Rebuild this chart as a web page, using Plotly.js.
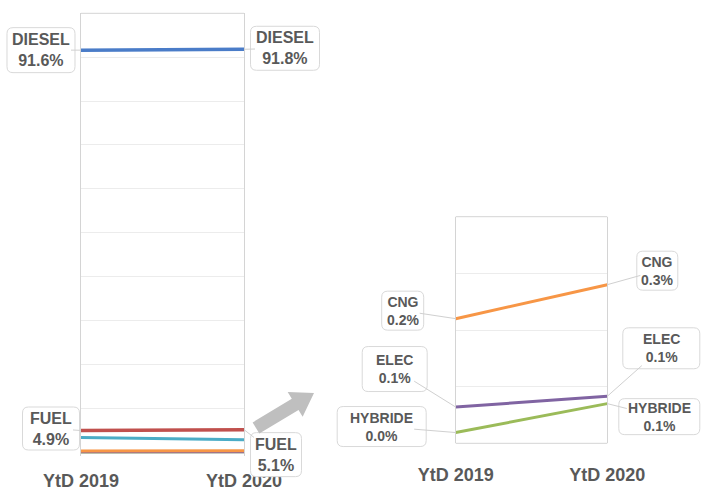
<!DOCTYPE html>
<html>
<head>
<meta charset="utf-8">
<script src="https://cdn.plot.ly/plotly-3.0.1.min.js"></script>
<style>html,body{margin:0;padding:0;background:#fff;}#chart{width:707px;height:491px;}</style>
</head>
<body>
<div id="chart"></div>
<script>
// ---- data ----
const periods = ["YtD 2019", "YtD 2020"];
const diesel  = [91.6, 91.8];
const fuel    = [4.9, 5.1];
const autres  = [3.3, 2.8];
const cng     = [0.22, 0.28];
const elec    = [0.064, 0.083];
const hybride = [0.019, 0.07];

const W = 707, H = 491;
const TXT = "#595959";
const FONT = "Liberation Sans, Arial, sans-serif";
const colors = {diesel:"#4a7cc8", fuel:"#c0504d", autres:"#4bacc6", cng:"#f79646", elec:"#8064a2", hybride:"#9bbb59"};

function px2x(p){return p/W;}
function px2y(p){return 1-p/H;}

const traces = [];
function line(y, c, xa, ya, w){
  traces.push({x:periods, y:y, type:"scatter", mode:"lines", xaxis:xa, yaxis:ya,
    line:{color:c, width:w}, hoverinfo:"skip", showlegend:false});
}
// left chart (all)
line(autres, colors.autres, "x", "y", 3);
line(hybride, colors.hybride, "x", "y", 3);
line(elec, colors.elec, "x", "y", 3);
line(cng, colors.cng, "x", "y", 3);
line(fuel, colors.fuel, "x", "y", 3.5);
line(diesel, colors.diesel, "x", "y", 3.5);
// right chart (zoom)
line(cng, colors.cng, "x2", "y2", 3);
line(hybride, colors.hybride, "x2", "y2", 3);
line(elec, colors.elec, "x2", "y2", 3);

const fmt = v => v.toFixed(1) + "%";

// annotations: [name, values, index, xaxis, yaxis, ax, ay, boxW, boxH, fontSize]
const annDefs = [
  ["DIESEL", diesel, 0, "x", "y", -40, 0, 68, 45, 16],
  ["DIESEL", diesel, 1, "x", "y", 41, -1, 69, 44, 16],
  ["FUEL", fuel, 0, "x", "y", -30, -2, 57, 43, 16],
  ["FUEL", fuel, 1, "x", "y", 32, 25, 51, 44, 16],
  ["CNG", cng, 0, "x2", "y2", -53, -8, 42, 39, 14],
  ["CNG", cng, 1, "x2", "y2", 50, -14, 41, 39, 14],
  ["ELEC", elec, 0, "x2", "y2", -61, -38, 65, 45, 14],
  ["ELEC", elec, 1, "x2", "y2", 54, -48, 77, 41, 14],
  ["HYBRIDE", hybride, 0, "x2", "y2", -74, -6, 89, 40, 14],
  ["HYBRIDE", hybride, 1, "x2", "y2", 52, 13, 81, 36, 14]
];

// axis geometry (pixels)
const L = {x0:81, x1:244, yTop:13.3, yZero:452, rng:[-1,100]};
const R = {x0:455.7, x1:607.3, yTop:216.7, yZero:443.3, rng:[0,0.4]};
function yPix(g, v){ const top = g === L ? 100 : 0.4; return g.yZero - (v/top)*(g.yZero-g.yTop); }
const Lbottom = yPix(L, -1);

const annotations = [];
const shapes = [];
const P = (x,y) => px2x(x).toFixed(5) + "," + px2y(y).toFixed(5);

// frame lines (top of left chart, top and bottom of right chart)
[[L.x0, L.yTop, L.x1, L.yTop], [R.x0, R.yTop, R.x1, R.yTop], [R.x0, R.yZero, R.x1, R.yZero]].forEach(s => {
  shapes.push({type:"line", xref:"paper", yref:"paper", x0:px2x(s[0]), y0:px2y(s[1]), x1:px2x(s[2]), y1:px2y(s[3]),
    line:{color:"#d4d4d4", width:1}, layer:"below"});
});

annDefs.forEach(d => {
  const [name, vals, i, xa, ya, ax, ay, bw, bh, fs] = d;
  const g = xa === "x" ? L : R;
  const ptx = i === 0 ? g.x0 : g.x1;
  const pty = yPix(g, vals[i]);
  const cx = ptx + ax, cy = pty + ay;
  annotations.push({
    x: periods[i], y: vals[i], xref: xa, yref: ya,
    ax: ax, ay: ay, showarrow: true, arrowhead: 0, arrowwidth: 1, arrowcolor: "#d0d0d0",
    text: "<b>" + name + "</b><br><b>" + fmt(vals[i]) + "</b>",
    font: {family: FONT, size: fs, color: TXT}, align: "center",
    bgcolor: "rgba(0,0,0,0)", borderwidth: 0
  });
  // rounded box
  const r = 6;
  const x0 = cx - bw/2, x1 = cx + bw/2, y0 = cy - bh/2, y1 = cy + bh/2;
  const path = "M" + P(x0+r,y0) + " L" + P(x1-r,y0) + " Q" + P(x1,y0) + " " + P(x1,y0+r) +
    " L" + P(x1,y1-r) + " Q" + P(x1,y1) + " " + P(x1-r,y1) + " L" + P(x0+r,y1) +
    " Q" + P(x0,y1) + " " + P(x0,y1-r) + " L" + P(x0,y0+r) + " Q" + P(x0,y0) + " " + P(x0+r,y0) + " Z";
  shapes.push({type:"path", xref:"paper", yref:"paper", path:path,
    line:{color:"#d9d9d9", width:1}, fillcolor:"#ffffff", layer:"above"});
});

// big grey arrow (decoration)
(function(){
  const tail = [256, 428], tip = [314, 393];
  const dx = tip[0]-tail[0], dy = tip[1]-tail[1], len = Math.hypot(dx, dy);
  const u = [dx/len, dy/len], n = [-u[1], u[0]];
  const sw = 6.5, hw = 14.5, hl = 22;
  const base = [tip[0]-u[0]*hl, tip[1]-u[1]*hl];
  const pts = [
    [tail[0]+n[0]*sw, tail[1]+n[1]*sw],
    [base[0]+n[0]*sw, base[1]+n[1]*sw],
    [base[0]+n[0]*hw, base[1]+n[1]*hw],
    tip,
    [base[0]-n[0]*hw, base[1]-n[1]*hw],
    [base[0]-n[0]*sw, base[1]-n[1]*sw],
    [tail[0]-n[0]*sw, tail[1]-n[1]*sw]
  ];
  const path = "M" + pts.map(p => P(p[0], p[1])).join(" L") + " Z";
  shapes.push({type:"path", xref:"paper", yref:"paper", path:path, line:{width:0}, fillcolor:"#bfbfbf", layer:"above"});
})();

const tickFont = {family: FONT, size: 18, color: TXT, weight: "bold"};

const layout = {
  width: W, height: H,
  margin: {l:0, r:0, t:0, b:0},
  paper_bgcolor: "#fff", plot_bgcolor: "rgba(0,0,0,0)",
  showlegend: false,
  font: {family: FONT, color: TXT},
  xaxis: {domain: [px2x(L.x0), px2x(L.x1)], type:"category", range:[0,1], showgrid:false,
    zeroline:false, showline:false, ticks:"", tickfont: tickFont, ticklabelstandoff: 12, fixedrange:true},
  yaxis: {domain: [px2y(Lbottom), px2y(L.yTop)], range: L.rng, tick0:0, dtick:10, showgrid:true,
    gridcolor:"#ececec", gridwidth:1, zeroline:false, showline:true, mirror:true, linecolor:"#d4d4d4",
    linewidth:1, showticklabels:false, ticks:"", fixedrange:true},
  xaxis2: {domain: [px2x(R.x0), px2x(R.x1)], type:"category", range:[0,1], showgrid:false, anchor:"y2",
    zeroline:false, showline:false, ticks:"", tickfont: tickFont, ticklabelstandoff: 19, fixedrange:true},
  yaxis2: {domain: [px2y(R.yZero), px2y(R.yTop)], range: R.rng, tick0:0, dtick:0.1, showgrid:true, anchor:"x2",
    gridcolor:"#ececec", gridwidth:1, zeroline:false, showline:true, mirror:true, linecolor:"#d4d4d4",
    linewidth:1, showticklabels:false, ticks:"", fixedrange:true},
  annotations: annotations,
  shapes: shapes
};

Plotly.newPlot("chart", traces, layout, {staticPlot:true, displayModeBar:false});
</script>
</body>
</html>
